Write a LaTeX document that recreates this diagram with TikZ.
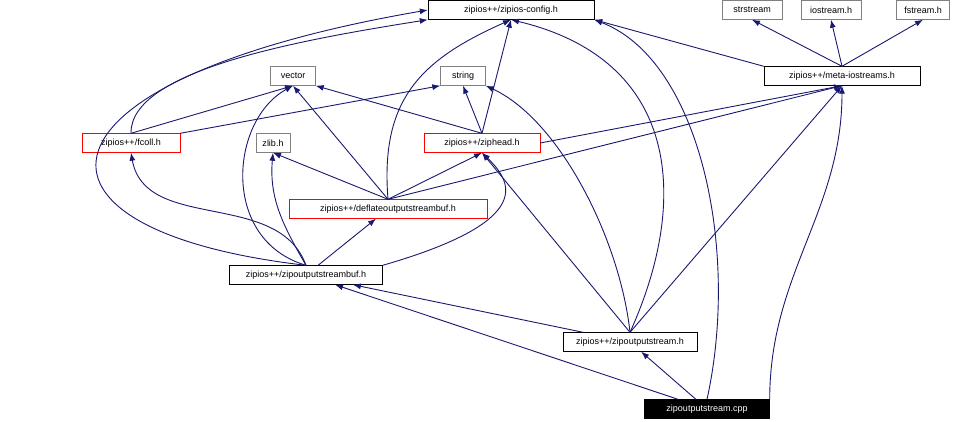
\documentclass[tikz,border=0pt]{standalone}
\usepackage{fontspec}
\setmainfont{Liberation Sans}
\usetikzlibrary{arrows.meta}
\definecolor{edgeblue}{HTML}{191970}
\tikzset{
  file/.style={draw=black, fill=white, inner sep=2pt, minimum height=19pt, font=\fontsize{9}{10}\selectfont},
  redfile/.style={file, draw=red},
  sysfile/.style={file, draw=gray},
  mainfile/.style={file, fill=black, text=white},
  dep/.style={draw=edgeblue, line width=0.9pt, -{Latex[length=8pt,width=6pt]}}
}
\begin{document}
\begin{tikzpicture}[x=1pt, y=-1pt]
	\useasboundingbox (0,0) rectangle (965,421);
	% headers
	\node[file, minimum width=166pt] (config) at (511,10) {zipios++/zipios-config.h};
	\node[sysfile, minimum width=60pt] (strstream) at (752,10) {strstream};
	\node[sysfile, minimum width=60pt] (iostream) at (831,10) {iostream.h};
	\node[sysfile, minimum width=53pt] (fstream) at (923,10) {fstream.h};
	\node[sysfile, minimum width=45pt] (vector) at (293,76) {vector};
	\node[sysfile, minimum width=45pt] (string) at (463,76) {string};
	\node[file, minimum width=156pt] (meta) at (842,76) {zipios++/meta-iostreams.h};
	\node[redfile, minimum width=98pt] (fcoll) at (131,143) {zipios++/fcoll.h};
	\node[sysfile, minimum width=34pt] (zlib) at (273,143) {zlib.h};
	\node[redfile, minimum width=116pt] (ziphead) at (482,143) {zipios++/ziphead.h};
	\node[redfile, minimum width=198pt] (deflate) at (388,209) {zipios++/deflateoutputstreambuf.h};
	\node[file, minimum width=153pt] (zosbuf) at (306,275) {zipios++/zipoutputstreambuf.h};
	\node[file, minimum width=134pt] (zosh) at (630,342) {zipios++/zipoutputstream.h};
	\node[mainfile, minimum width=125pt] (cpp) at (707,409) {zipoutputstream.cpp};

	% includes of the source file
	\draw[dep] (cpp) -- (zosh);
	\draw[dep] (cpp) -- (zosbuf);
	\draw[dep] (cpp.north east) to[out=90, in=-90] (meta.south);
	\draw[dep] (cpp.north) .. controls (740,250) and (700,60) .. (config.south east);
	% zipoutputstream.h
	\draw[dep] (zosh) -- (zosbuf);
	\draw[dep] (zosh.north) -- (ziphead.south);
	\draw[dep] (zosh.north) .. controls (620,240) and (560,120) .. (string.south east);
	\draw[dep] (zosh.north) -- (meta.south);
	\draw[dep] (zosh.north) .. controls (690,200) and (680,60) .. (config.south);
	% zipoutputstreambuf.h
	\draw[dep] (zosbuf) -- (deflate);
	\draw[dep] (zosbuf.north) to[out=110, in=-80] (fcoll.south);
	\draw[dep] (zosbuf.north) to[out=120, in=-95] (zlib.south);
	\draw[dep] (zosbuf.north) .. controls (220,240) and (230,120) .. (vector.south);
	\draw[dep] (zosbuf.north east) .. controls (540,220) and (510,180) .. (ziphead.south);
	\draw[dep] (zosbuf.north) .. controls (0,230) and (20,80) .. (config.west);
	% deflateoutputstreambuf.h
	\draw[dep] (deflate.north) -- (zlib.south);
	\draw[dep] (deflate.north) -- (vector.south);
	\draw[dep] (deflate.north) -- (ziphead.south);
	\draw[dep] (deflate.north) -- (meta.south);
	\draw[dep] (deflate.north) .. controls (380,100) and (420,60) .. (config.south);
	% ziphead.h
	\draw[dep] (ziphead.north) -- (vector.south east);
	\draw[dep] (ziphead.north) -- (string.south);
	\draw[dep] (ziphead.east) -- (meta.south);
	\draw[dep] (ziphead.north) -- (config.south);
	% fcoll.h
	\draw[dep] (fcoll.north) -- (vector.south);
	\draw[dep] (fcoll.north east) -- (string.south west);
	\draw[dep] (fcoll.north) .. controls (130,70) and (300,40) .. (config.south west);
	% meta-iostreams.h
	\draw[dep] (meta.north) -- (strstream.south);
	\draw[dep] (meta.north) -- (iostream.south);
	\draw[dep] (meta.north) -- (fstream.south);
	\draw[dep] (meta.north west) -- (config.south east);
\end{tikzpicture}
\end{document}
